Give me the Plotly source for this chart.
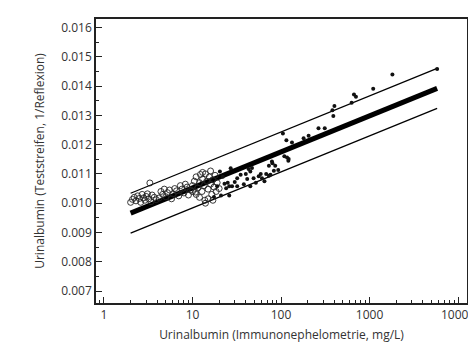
import numpy as np
import plotly.graph_objects as go

# Open circles (low range)
open_x = [2.0, 2.1, 2.2, 2.3, 2.4, 2.5, 2.6, 2.7, 2.8, 2.9, 3.0, 3.1, 3.2, 3.3, 3.4, 3.5, 3.7, 3.9,
          4.2, 4.4, 4.6, 4.8, 5.0, 5.2, 5.5, 5.8, 6.0, 6.3, 6.6, 7.0, 7.3, 7.6, 8.0, 8.3, 8.7, 9.0,
          9.5, 10, 10.5, 10.8, 11, 11.5, 12, 12.3, 12.8, 13, 13.5, 13.8, 14, 14.5, 15, 15.5, 16, 16.5,
          17, 17.5, 18, 18.5, 19, 20, 12, 14, 15, 11, 10, 16, 13, 17]
open_y = [0.01003, 0.01013, 0.01020, 0.01008, 0.01025, 0.01016, 0.01003, 0.01030, 0.01018, 0.01010,
          0.01023, 0.01032, 0.01015, 0.01069, 0.01005, 0.01028, 0.01020, 0.01012,
          0.01018, 0.01040, 0.01030, 0.01048, 0.01022, 0.01036, 0.01045, 0.01015, 0.01032, 0.01050,
          0.01042, 0.01025, 0.01060, 0.01048, 0.01035, 0.01065, 0.01055, 0.01028,
          0.01045, 0.01060, 0.01075, 0.01038, 0.01090, 0.01052, 0.01070, 0.01098, 0.01040, 0.01082,
          0.01060, 0.01010, 0.01100, 0.01075, 0.01048, 0.01090, 0.01065, 0.01030, 0.01080, 0.01055,
          0.01095, 0.01040, 0.01070, 0.01050, 0.01020, 0.01000, 0.01015, 0.01030, 0.01040, 0.01110,
          0.01105, 0.01010]

# Filled dots (higher range)
dot_x = [17.5, 21, 26, 19, 23, 24, 26, 28, 32, 45, 20.4, 27, 32, 35, 41.5, 43, 45, 49, 56, 59, 61,
         73, 73, 76, 80, 83, 86, 93, 109, 122, 105, 115, 133, 180, 205, 265, 312, 381, 390, 401,
         628, 667, 702, 1100, 1812, 5800,
         22, 25, 30, 38, 52, 65, 68, 47, 40, 117, 121, 79]
dot_y = [0.01021, 0.01026, 0.01026, 0.01058, 0.01066, 0.01051, 0.01058, 0.01058, 0.01058, 0.01058,
         0.01108, 0.01119, 0.01085, 0.01097, 0.01083, 0.01117, 0.01108, 0.01085, 0.01092, 0.01100,
         0.01085, 0.01094, 0.01128, 0.01097, 0.01136, 0.01111, 0.01128, 0.01113, 0.01160, 0.01151,
         0.01238, 0.01215, 0.01207, 0.01222, 0.01230, 0.01256, 0.01256, 0.01317, 0.01298, 0.01332,
         0.01343, 0.01371, 0.01363, 0.01391, 0.01439, 0.01458,
         0.01090, 0.01070, 0.01072, 0.01065, 0.01070, 0.01075, 0.01100, 0.01120, 0.01100, 0.01156,
         0.01145, 0.01142]

# Regression line and prediction limits
line_x = [2, 5800]
fit_y = [0.00966, 0.01392]
upper_y = [0.01034, 0.01460]
lower_y = [0.00898, 0.01324]

yticks = [0.007, 0.008, 0.009, 0.010, 0.011, 0.012, 0.013, 0.014, 0.015, 0.016]
xticks = [1, 10, 100, 1000, 10000]

fig = go.Figure()
for yy, w in [(upper_y, 1.3), (lower_y, 1.3), (fit_y, 5)]:
    fig.add_trace(go.Scatter(x=line_x, y=yy, mode="lines",
                             line=dict(color="black", width=w), hoverinfo="skip"))
fig.add_trace(go.Scatter(x=open_x, y=open_y, mode="markers",
                         marker=dict(symbol="circle-open", size=6, color="#222",
                                     line=dict(width=0.9))))
fig.add_trace(go.Scatter(x=dot_x, y=dot_y, mode="markers",
                         marker=dict(symbol="circle", size=4, color="#111")))

font = "'Open Sans', 'Noto Sans', sans-serif"
fig.update_layout(
    width=476, height=343,
    margin=dict(l=88, r=15, t=9, b=48),
    plot_bgcolor="white", paper_bgcolor="white",
    showlegend=False,
    font=dict(family=font, size=12, color="#333"),
)
fig.update_xaxes(
    type="log", range=[-0.09, 4.101],
    tickvals=xticks, ticktext=[str(v) for v in xticks],
    ticks="inside", ticklen=6, tickcolor="#222",
    minor=dict(ticks="inside", ticklen=3, dtick="D1", tickcolor="#222", showgrid=False),
    showline=True, linecolor="#222", linewidth=1.5, mirror=True,
    showgrid=False, zeroline=False,
    title=dict(text="Urinalbumin (Immunonephelometrie, mg/L)", font=dict(size=12), standoff=8),
)
fig.update_yaxes(
    range=[0.006593, 0.016288],
    tickvals=yticks, ticktext=[f"{v:.3f}" for v in yticks],
    ticks="inside", ticklen=6, tickcolor="#222",
    minor=dict(ticks="inside", ticklen=3, dtick=0.0005, tickcolor="#222", showgrid=False),
    showline=True, linecolor="#222", linewidth=1.5, mirror=True,
    showgrid=False, zeroline=False,
    title=dict(text="Urinalbumin (Teststreifen, 1/Reflexion)", font=dict(size=12), standoff=14),
)
fig.write_html("out.html")
